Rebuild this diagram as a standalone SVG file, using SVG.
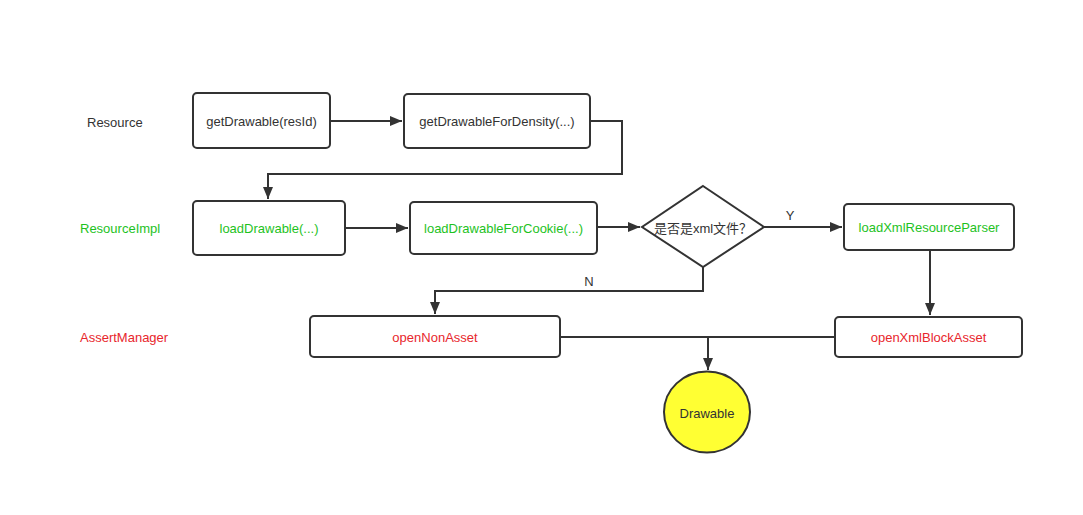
<svg xmlns="http://www.w3.org/2000/svg" width="1083" height="515" viewBox="0 0 1083 515">
<style>
text{font-family:"Liberation Sans","Noto Sans CJK SC",sans-serif;font-size:13px;text-anchor:middle;dominant-baseline:central}
.box{fill:#fff;stroke:#333;stroke-width:2}
.blk{fill:#333}
.grn{fill:#1ec21e}
.red{fill:#e8262c}
.lane{text-anchor:start}
.c{fill:none;stroke:#333;stroke-width:2}
</style>
<defs>
<marker id="ah" viewBox="0 0 10 10" refX="9" refY="5" markerWidth="6" markerHeight="6" markerUnits="userSpaceOnUse" orient="auto"><path d="M0,0L10,5L0,10z" fill="#333"/></marker>
<marker id="a" viewBox="0 0 12 10" refX="12" refY="5" markerWidth="12" markerHeight="10" markerUnits="userSpaceOnUse" orient="auto"><path d="M0,0L12,5L0,10z" fill="#333"/></marker>
</defs>
<rect width="1083" height="515" fill="#fff"/>
<text class="blk lane" x="87" y="122">Resource</text>
<text class="grn lane" x="80" y="228">ResourceImpl</text>
<text class="red lane" x="80" y="337">AssertManager</text>
<g id="connectors">
<path class="c" d="M330,121H402" marker-end="url(#a)"/>
<path class="c" d="M590,121H622V174H268V199" marker-end="url(#a)"/>
<path class="c" d="M345,228H408" marker-end="url(#a)"/>
<path class="c" d="M597,227H640" marker-end="url(#a)"/>
<path class="c" d="M764,227H842" marker-end="url(#a)"/>
<path class="c" d="M930,250V315" marker-end="url(#a)"/>
<path class="c" d="M703,267V291H435V314" marker-end="url(#a)"/>
<path class="c" d="M560,337H835"/>
<path class="c" d="M708,337V370" marker-end="url(#a)"/>
<text class="blk" x="790" y="215">Y</text>
<text class="blk" x="589" y="281">N</text>
</g>
<g id="getDrawable"><rect class="box" x="193" y="93" width="137" height="55" rx="4"/><text class="blk" x="261.5" y="121">getDrawable(resId)</text></g>
<g id="getDrawableForDensity"><rect class="box" x="404" y="94" width="186" height="54" rx="4"/><text class="blk" x="497" y="121">getDrawableForDensity(...)</text></g>
<g id="loadDrawable"><rect class="box" x="193" y="201" width="152" height="54" rx="4"/><text class="grn" x="269" y="228">loadDrawable(...)</text></g>
<g id="loadDrawableForCookie"><rect class="box" x="410" y="202" width="187" height="52" rx="4"/><text class="grn" x="503.5" y="228">loadDrawableForCookie(...)</text></g>
<g id="isXml"><path class="box" d="M703,186L764,227L703,267L642,227Z"/><text class="blk" x="703" y="228">是否是xml文件？</text></g>
<g id="loadXmlResourceParser"><rect class="box" x="844" y="204" width="170" height="46" rx="4"/><text class="grn" x="929" y="227">loadXmlResourceParser</text></g>
<g id="openNonAsset"><rect class="box" x="310" y="316" width="250" height="41" rx="4"/><text class="red" x="435" y="337">openNonAsset</text></g>
<g id="openXmlBlockAsset"><rect class="box" x="835" y="317" width="187" height="40" rx="4"/><text class="red" x="928.5" y="337">openXmlBlockAsset</text></g>
<g id="drawable"><ellipse cx="707" cy="412" rx="43" ry="40.5" fill="#ffff33" stroke="#333" stroke-width="2"/><text class="blk" x="707" y="413">Drawable</text></g>
</svg>
